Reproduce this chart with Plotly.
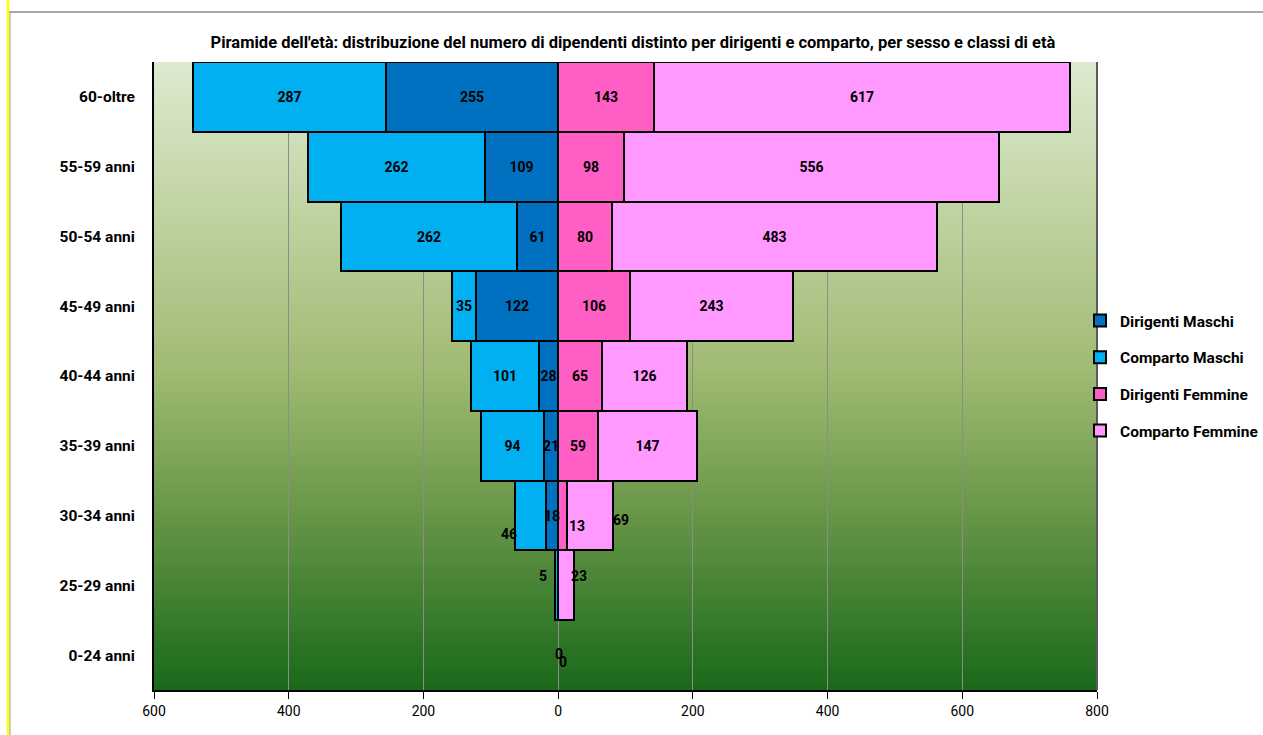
import base64
import struct
import zlib

import plotly.graph_objects as go

# Age classes, listed from the top row down to the bottom row
classi = ["60-oltre", "55-59 anni", "50-54 anni", "45-49 anni", "40-44 anni",
          "35-39 anni", "30-34 anni", "25-29 anni", "0-24 anni"]

dirigenti_maschi = [255, 109, 61, 122, 28, 21, 18, 0, 0]
comparto_maschi = [287, 262, 262, 35, 101, 94, 46, 5, 0]
dirigenti_femmine = [143, 98, 80, 106, 65, 59, 13, 0, 0]
comparto_femmine = [617, 556, 483, 243, 126, 147, 69, 23, 0]

x_ticks = [-600, -400, -200, 0, 200, 400, 600, 800]

FONT = "Roboto, sans-serif"

# Plot area in pixels (page 1263 x 735)
PX_L, PX_R, PX_T, PX_B = 154, 1097, 62, 690

n = len(classi)
posizioni = [n - 1 - i for i in range(n)]  # numeric row position, top row highest
# Rows whose labels sit outside the centred position (placed as annotations)
righe_libere = [classi.index(c) for c in ("30-34 anni", "25-29 anni", "0-24 anni")]


def gradient_png(stops, size=320):
    """Vertical 1-pixel-wide gradient (top to bottom) encoded as a PNG data URI."""
    def colour_at(t):
        for (t0, c0), (t1, c1) in zip(stops[:-1], stops[1:]):
            if t0 <= t <= t1:
                f = (t - t0) / (t1 - t0) if t1 > t0 else 0
                return bytes(int(round(a + (b - a) * f)) for a, b in zip(c0, c1))
        return bytes(stops[-1][1])

    raw = b"".join(b"\x00" + colour_at(i / (size - 1)) for i in range(size))

    def chunk(tag, data):
        body = tag + data
        return struct.pack(">I", len(data)) + body + struct.pack(">I", zlib.crc32(body) & 0xFFFFFFFF)

    png = (b"\x89PNG\r\n\x1a\n"
           + chunk(b"IHDR", struct.pack(">IIBBBBB", 1, size, 8, 2, 0, 0, 0))
           + chunk(b"IDAT", zlib.compress(raw, 9))
           + chunk(b"IEND", b""))
    return "data:image/png;base64," + base64.b64encode(png).decode()


sfondo = gradient_png([
    (0.00, (222, 234, 208)),
    (0.25, (190, 210, 160)),
    (0.49, (160, 187, 116)),
    (0.72, (104, 150, 72)),
    (1.00, (26, 105, 26)),
])

serie = [
    ("Dirigenti Maschi", dirigenti_maschi, -1, "#0070c0"),
    ("Comparto Maschi", comparto_maschi, -1, "#00b0f0"),
    ("Dirigenti Femmine", dirigenti_femmine, 1, "#ff5fc4"),
    ("Comparto Femmine", comparto_femmine, 1, "#ff99ff"),
]

fig = go.Figure()
for nome, valori, segno, colore in serie:
    testi = ["" if r in righe_libere else str(v) for r, v in enumerate(valori)]
    fig.add_trace(go.Bar(
        name=nome,
        orientation="h",
        y=posizioni,
        x=[segno * v for v in valori],
        width=1.0,
        marker=dict(color=colore,
                    line=dict(color="black", width=[2 if v else 0 for v in valori])),
        text=testi,
        textposition="inside",
        insidetextanchor="middle",
        textangle=0,
        constraintext="none",
        textfont=dict(family=FONT, size=14, color="black", weight="bold"),
        legendgroup=nome,
        hoverinfo="skip",
    ))

# Labels of the smallest classes, set apart from the bars: (series, class, x, row offset)
etichette = [
    (comparto_maschi, "30-34 anni", -73, -0.27),
    (dirigenti_maschi, "30-34 anni", -9, 0.0),
    (dirigenti_femmine, "30-34 anni", 28, -0.15),
    (comparto_femmine, "30-34 anni", 93, -0.07),
    (comparto_maschi, "25-29 anni", -22, 0.14),
    (comparto_femmine, "25-29 anni", 31, 0.14),
    (dirigenti_maschi, "0-24 anni", 1, 0.02),
    (dirigenti_femmine, "0-24 anni", 7, -0.10),
]
for valori, classe, x, dy in etichette:
    riga = classi.index(classe)
    fig.add_annotation(x=x, y=posizioni[riga] + dy, text=str(valori[riga]), showarrow=False,
                       font=dict(family=FONT, size=14, color="black", weight="bold"))


def px_x(px):
    return (px - PX_L) / (PX_R - PX_L)


def px_y(py):
    return (PX_B - py) / (PX_B - PX_T)


fig.update_layout(
    width=1263, height=735,
    margin=dict(l=PX_L, r=1263 - PX_R, t=PX_T, b=735 - PX_B, autoexpand=False),
    paper_bgcolor="white",
    plot_bgcolor="rgba(0,0,0,0)",
    barmode="relative",
    bargap=0,
    title=dict(
        text="Piramide dell'età: distribuzione del numero di dipendenti distinto per dirigenti e comparto, per sesso e classi di età",
        x=px_x(633), xref="paper", xanchor="center", y=1 - 42 / 735, yanchor="middle",
        font=dict(family=FONT, size=16.5, color="black", weight="bold"),
    ),
    xaxis=dict(
        range=[-600, 800], tickvals=x_ticks, ticktext=[str(abs(v)) for v in x_ticks],
        showgrid=True, gridcolor="#8c8c8c", gridwidth=1, zeroline=False,
        showline=True, linecolor="black", linewidth=2,
        ticks="outside", ticklen=7, tickcolor="black", tickwidth=1,
        tickfont=dict(family=FONT, size=14, color="black"),
        fixedrange=True,
    ),
    yaxis=dict(
        range=[-0.5, n - 0.5], tickvals=posizioni, ticktext=classi,
        showgrid=False, zeroline=False, showline=True, linecolor="black", linewidth=2,
        ticks="", ticklabelstandoff=14,
        tickfont=dict(family=FONT, size=15.5, color="black", weight="bold"),
        fixedrange=True,
    ),
    legend=dict(
        x=px_x(1080), xanchor="left", y=px_y(304), yanchor="top",
        traceorder="grouped", tracegroupgap=13.5, itemwidth=30,
        bgcolor="rgba(0,0,0,0)",
        font=dict(family=FONT, size=15.5, color="black", weight="bold"),
    ),
    images=[dict(
        source=sfondo, xref="paper", yref="paper", x=0, y=1, sizex=1, sizey=1,
        xanchor="left", yanchor="top", sizing="stretch", layer="below",
    )],
    shapes=[
        # right edge of the plot area
        dict(type="line", xref="paper", yref="paper", x0=1, x1=1, y0=0, y1=1,
             line=dict(color="#5a5a5a", width=2)),
        # outer chart frame
        dict(type="line", xref="paper", yref="paper", x0=px_x(9), x1=px_x(1263),
             y0=px_y(12), y1=px_y(12), line=dict(color="#8c8c8c", width=1.5)),
        dict(type="line", xref="paper", yref="paper", x0=px_x(8), x1=px_x(8),
             y0=px_y(0), y1=px_y(735), line=dict(color="#ffff00", width=2.5)),
        dict(type="line", xref="paper", yref="paper", x0=px_x(10), x1=px_x(10),
             y0=px_y(12), y1=px_y(735), line=dict(color="#9a9a9a", width=1)),
    ],
)

fig.write_html("out.html")
